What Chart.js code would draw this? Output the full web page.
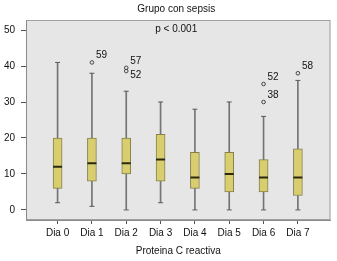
<!DOCTYPE html>
<html>
<head>
<meta charset="utf-8">
<script src="https://cdn.jsdelivr.net/npm/chart.js@4.4.0/dist/chart.umd.min.js"></script>
<style>
  html, body { margin: 0; padding: 0; background: #fff; }
</style>
</head>
<body>
<canvas id="boxChart" width="337" height="261"></canvas>
<script>
// values
const days = ['Dia 0', 'Dia 1', 'Dia 2', 'Dia 3', 'Dia 4', 'Dia 5', 'Dia 6', 'Dia 7'];
const whiskerLow = [2, 1, 0, 2, 0, 0, 0, 0];
const q1 = [6, 8, 10, 8, 6, 5, 5, 4];
const median = [12, 13, 13, 14, 9, 10, 9, 9];
const q3 = [20, 20, 20, 21, 16, 16, 14, 17];
const whiskerHigh = [41, 38, 33, 30, 28, 30, 26, 36];
const outlierDay = [1, 2, 2, 6, 6, 7];
const outlierValue = [41, 39.5, 38.6, 35, 30, 38];
const outlierCase = ['59', '57', '52', '52', '38', '58'];
const yTicks = [0, 10, 20, 30, 40, 50];

const FONT = "'Liberation Sans', Arial, sans-serif";
const whiskerColor = '#747474';

const decor = {
  id: 'decor',
  beforeDraw(chart) {
    const { ctx, chartArea: a } = chart;
    ctx.save();
    ctx.fillStyle = '#e6e6e6';
    ctx.fillRect(a.left, a.top, a.right - a.left, a.bottom - a.top);
    ctx.strokeStyle = '#a0a0a0';
    ctx.lineWidth = 1;
    ctx.strokeRect(a.left + 0.5, a.top + 0.5, a.right - a.left - 1, a.bottom - a.top - 1);
    ctx.restore();
  },
  afterDatasetsDraw(chart) {
    const { ctx, chartArea: a } = chart;
    const cx = (a.left + a.right) / 2 - 2;
    ctx.save();
    ctx.fillStyle = '#111';
    ctx.font = '10px ' + FONT;
    ctx.textAlign = 'center';
    ctx.textBaseline = 'middle';
    ctx.fillText('Grupo con sepsis', cx, 9);
    ctx.fillText('p < 0.001', cx, a.top + 9);

    // case numbers next to the outliers
    const meta = chart.getDatasetMeta(5);
    ctx.textAlign = 'left';
    meta.data.forEach((pt, i) => {
      let dy = -7;
      if (i > 0 && outlierDay[i - 1] === outlierDay[i] && outlierValue[i - 1] - outlierValue[i] < 2) dy = 4;
      ctx.fillText(outlierCase[i], pt.x + 4, pt.y + dy);
    });
    ctx.restore();
  }
};

const ctx = document.getElementById('boxChart');
new Chart(ctx, {
  type: 'bar',
  data: {
    datasets: [
      {
        type: 'bar',
        data: days.map((d, i) => ({ x: i, y: [whiskerLow[i], q1[i]] })),
        backgroundColor: whiskerColor,
        barThickness: 1,
        grouped: false,
        order: 6
      },
      {
        type: 'bar',
        data: days.map((d, i) => ({ x: i, y: [q3[i], whiskerHigh[i]] })),
        backgroundColor: whiskerColor,
        barThickness: 1,
        grouped: false,
        order: 5
      },
      {
        type: 'scatter',
        data: days.map((d, i) => ({ x: i, y: whiskerLow[i] }))
          .concat(days.map((d, i) => ({ x: i, y: whiskerHigh[i] }))),
        pointStyle: 'line',
        radius: 2.5,
        borderColor: '#5c5c5c',
        borderWidth: 1,
        order: 4
      },
      {
        type: 'bar',
        data: days.map((d, i) => ({ x: i, y: [q1[i], q3[i]] })),
        backgroundColor: '#d8ce70',
        borderColor: '#858049',
        borderWidth: 1,
        borderSkipped: false,
        barThickness: 9,
        grouped: false,
        order: 3
      },
      {
        type: 'scatter',
        data: days.map((d, i) => ({ x: i, y: median[i] })),
        pointStyle: 'line',
        radius: 4.5,
        borderColor: '#2b2810',
        borderWidth: 2,
        order: 2
      },
      {
        type: 'scatter',
        data: outlierDay.map((d, i) => ({ x: d, y: outlierValue[i] })),
        pointStyle: 'circle',
        radius: 1.8,
        borderColor: '#444',
        backgroundColor: 'rgba(0,0,0,0)',
        borderWidth: 1,
        order: 1
      }
    ]
  },
  options: {
    responsive: false,
    animation: false,
    events: [],
    layout: { padding: { top: 20, right: 3, left: 0, bottom: 0 } },
    plugins: { legend: { display: false }, tooltip: { enabled: false } },
    scales: {
      x: {
        type: 'linear',
        offset: false,
        min: -0.92,
        max: 7.95,
        afterBuildTicks: s => { s.ticks = days.map((d, i) => ({ value: i })); },
        afterFit: s => { s.height = 41; },
        grid: { drawOnChartArea: false, offset: false, tickLength: 4, tickColor: '#555' },
        border: { color: '#8a8a8a' },
        ticks: {
          autoSkip: false,
          maxRotation: 0,
          padding: 3,
          color: '#111',
          font: { family: FONT, size: 10 },
          callback: v => days[v]
        },
        title: {
          display: true,
          text: 'Proteina C reactiva',
          color: '#111',
          font: { family: FONT, size: 10 },
          padding: { top: 4, bottom: 4 }
        }
      },
      y: {
        min: -2.8,
        max: 52.8,
        afterBuildTicks: s => { s.ticks = yTicks.map(v => ({ value: v })); },
        afterFit: s => { s.width = 26; },
        grid: { drawOnChartArea: false, tickLength: 5, tickColor: '#555' },
        border: { color: '#8a8a8a' },
        ticks: {
          padding: 6,
          color: '#111',
          font: { family: FONT, size: 10 }
        }
      }
    }
  },
  plugins: [decor]
});
</script>
</body>
</html>
